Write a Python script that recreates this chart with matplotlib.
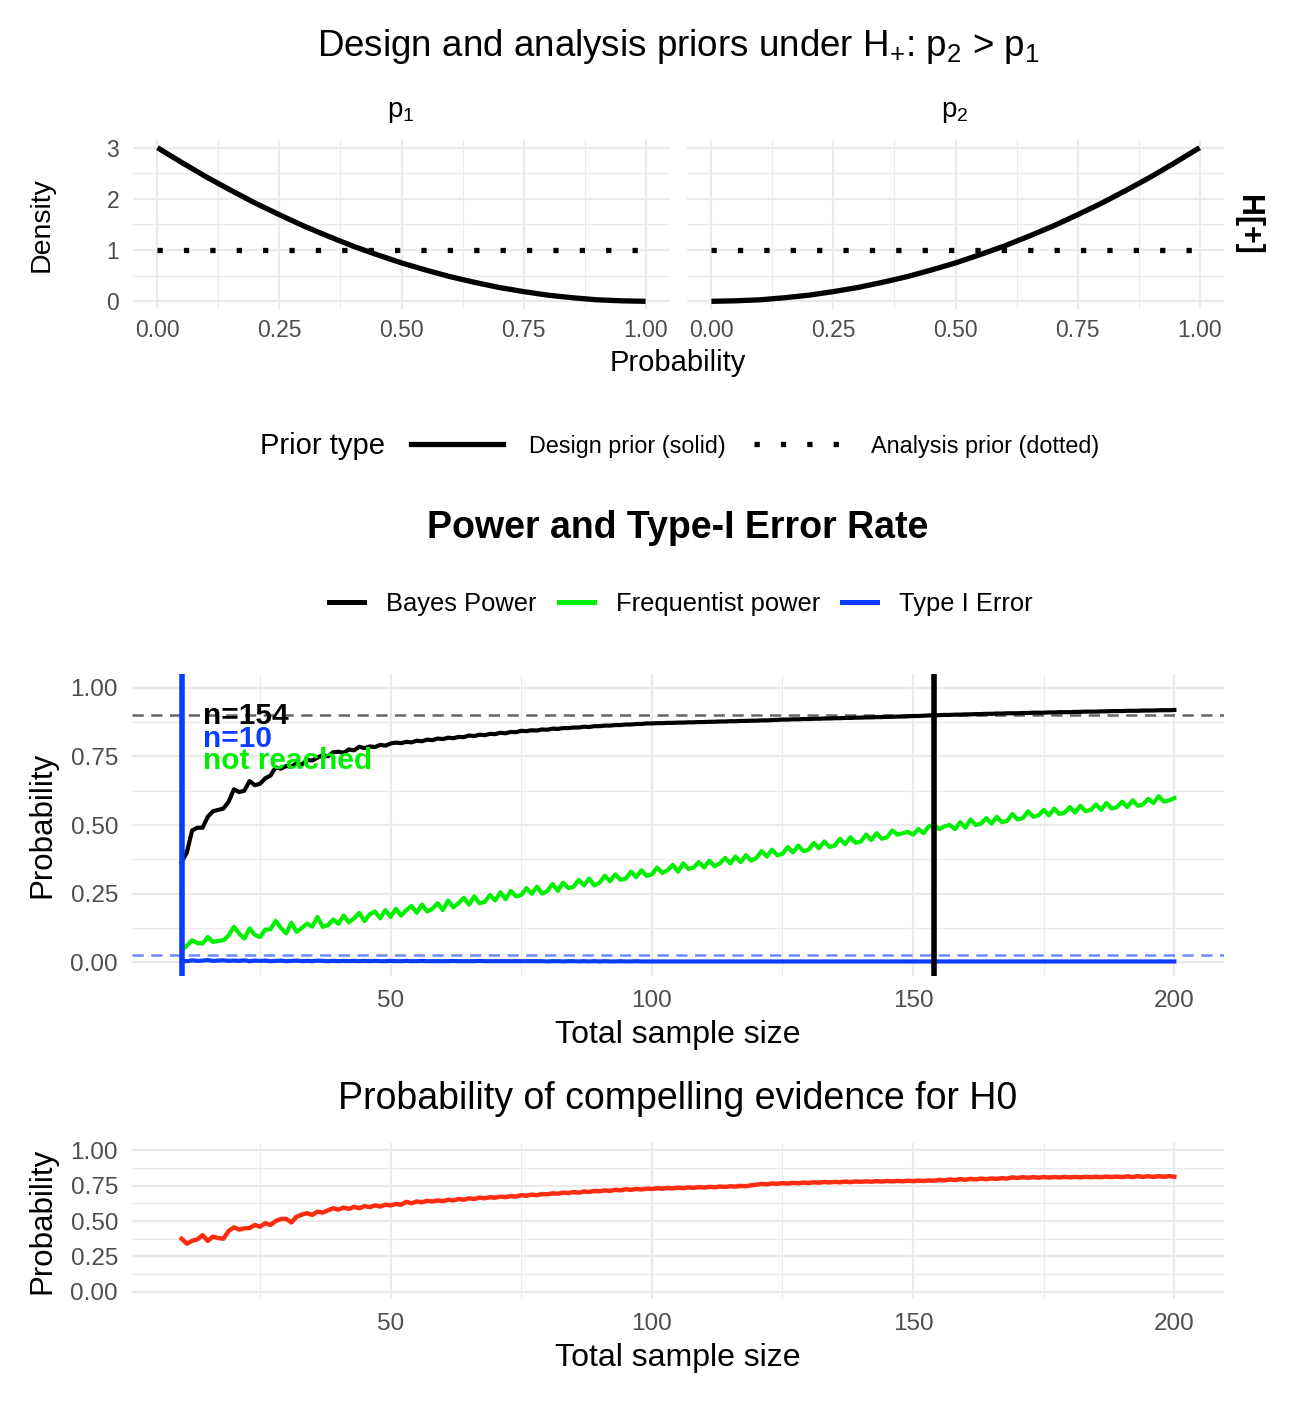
import numpy as np
import matplotlib
matplotlib.use('Agg')
import matplotlib.pyplot as plt
from matplotlib.lines import Line2D

plt.rcParams['font.family'] = ['Liberation Sans', 'DejaVu Sans']
plt.rcParams['mathtext.fontset'] = 'custom'
plt.rcParams['mathtext.rm'] = 'Liberation Sans'
plt.rcParams['mathtext.it'] = 'Liberation Sans:italic'

# ---- prior densities (top panels) ----
prob_grid = [0.00, 0.05, 0.10, 0.15, 0.20, 0.25, 0.30, 0.35, 0.40, 0.45, 0.50,
             0.55, 0.60, 0.65, 0.70, 0.75, 0.80, 0.85, 0.90, 0.95, 1.00]
design_p1 = [3.00, 2.71, 2.43, 2.17, 1.92, 1.69, 1.47, 1.27, 1.08, 0.91, 0.75,
             0.61, 0.48, 0.37, 0.27, 0.19, 0.12, 0.07, 0.03, 0.01, 0.00]
design_p2 = [0.00, 0.01, 0.03, 0.07, 0.12, 0.19, 0.27, 0.37, 0.48, 0.61, 0.75,
             0.91, 1.08, 1.27, 1.47, 1.69, 1.92, 2.17, 2.43, 2.71, 3.00]
analysis_prior = [1.0] * 21

# ---- power curves (n = 10 .. 200) ----
n_total = np.arange(10, 201)

bayes_power = [
    0.365, 0.40, 0.48, 0.49, 0.49, 0.53, 0.55, 0.555, 0.56, 0.585,
    0.63, 0.62, 0.625, 0.66, 0.645, 0.65, 0.67, 0.68, 0.71, 0.705,
    0.715, 0.712, 0.725, 0.72, 0.737, 0.735, 0.745, 0.755, 0.75, 0.765,
    0.767, 0.763, 0.775, 0.772, 0.785, 0.78, 0.786, 0.784, 0.792, 0.789,
    0.797, 0.800, 0.798, 0.803, 0.801, 0.807, 0.805, 0.811, 0.809, 0.815,
    0.813, 0.818, 0.816, 0.821, 0.820, 0.826, 0.824, 0.829, 0.827, 0.832,
    0.831, 0.836, 0.834, 0.839, 0.838, 0.843, 0.842, 0.845, 0.844, 0.848,
    0.847, 0.851, 0.850, 0.853, 0.853, 0.855, 0.855, 0.858, 0.857, 0.860,
    0.860, 0.862, 0.862, 0.864, 0.864, 0.866, 0.866, 0.868, 0.868, 0.870,
    0.870, 0.871, 0.871, 0.872, 0.872, 0.873, 0.873, 0.874, 0.874, 0.875,
    0.875, 0.876, 0.876, 0.877, 0.877, 0.878, 0.878, 0.879, 0.879, 0.880,
    0.880, 0.881, 0.881, 0.882, 0.883, 0.884, 0.884, 0.885, 0.885, 0.886,
    0.886, 0.887, 0.887, 0.888, 0.888, 0.889, 0.889, 0.890, 0.890, 0.891,
    0.891, 0.892, 0.892, 0.893, 0.893, 0.894, 0.894, 0.895, 0.895, 0.896,
    0.897, 0.897, 0.898, 0.899, 0.900, 0.900, 0.901, 0.901, 0.902, 0.902,
    0.903, 0.903, 0.904, 0.904, 0.905, 0.905, 0.906, 0.906, 0.907, 0.907,
    0.907, 0.908, 0.908, 0.909, 0.909, 0.909, 0.910, 0.910, 0.911, 0.911,
    0.911, 0.912, 0.912, 0.913, 0.913, 0.913, 0.914, 0.914, 0.915, 0.915,
    0.915, 0.916, 0.916, 0.916, 0.917, 0.917, 0.917, 0.918, 0.918, 0.918,
    0.919]

freq_power = [
    0.045, 0.06, 0.08, 0.07, 0.068, 0.092, 0.074, 0.078, 0.08, 0.098,
    0.129, 0.105, 0.086, 0.123, 0.10, 0.092, 0.119, 0.12, 0.151, 0.125,
    0.105, 0.144, 0.111, 0.125, 0.141, 0.13, 0.165, 0.129, 0.135, 0.156,
    0.14, 0.17, 0.145, 0.16, 0.18, 0.15, 0.175, 0.185, 0.16, 0.19,
    0.165, 0.195, 0.17, 0.19, 0.205, 0.18, 0.21, 0.185, 0.195, 0.215,
    0.19, 0.225, 0.20, 0.215, 0.235, 0.21, 0.24, 0.215, 0.22, 0.245,
    0.225, 0.255, 0.23, 0.26, 0.24, 0.245, 0.27, 0.25, 0.275, 0.25,
    0.26, 0.285, 0.26, 0.29, 0.27, 0.275, 0.30, 0.28, 0.305, 0.28,
    0.29, 0.315, 0.295, 0.32, 0.30, 0.305, 0.33, 0.31, 0.335, 0.315,
    0.32, 0.345, 0.325, 0.335, 0.355, 0.33, 0.36, 0.34, 0.345, 0.365,
    0.345, 0.37, 0.35, 0.36, 0.38, 0.36, 0.385, 0.365, 0.39, 0.37,
    0.38, 0.405, 0.385, 0.41, 0.39, 0.395, 0.42, 0.40, 0.425, 0.405,
    0.41, 0.435, 0.415, 0.44, 0.42, 0.425, 0.45, 0.43, 0.455, 0.435,
    0.44, 0.465, 0.445, 0.47, 0.45, 0.455, 0.48, 0.465, 0.47, 0.475,
    0.465, 0.485, 0.47, 0.495, 0.50, 0.485, 0.495, 0.50, 0.485, 0.51,
    0.49, 0.52, 0.50, 0.505, 0.525, 0.505, 0.53, 0.51, 0.515, 0.54,
    0.52, 0.525, 0.55, 0.53, 0.535, 0.555, 0.535, 0.56, 0.54, 0.545,
    0.565, 0.545, 0.57, 0.55, 0.555, 0.575, 0.555, 0.58, 0.56, 0.565,
    0.585, 0.565, 0.59, 0.57, 0.575, 0.595, 0.58, 0.605, 0.585, 0.59,
    0.598]

type1_error = [
    0.006, 0.004, 0.007, 0.005, 0.006, 0.008, 0.005, 0.006, 0.007, 0.005,
    0.006, 0.005, 0.007, 0.004, 0.006, 0.005, 0.006, 0.004, 0.005, 0.006,
    0.004, 0.005, 0.006, 0.004, 0.005, 0.004, 0.006, 0.005, 0.004, 0.005,
    0.004, 0.005, 0.004, 0.005, 0.004, 0.005, 0.004, 0.005, 0.004, 0.004,
    0.005, 0.004, 0.004, 0.005, 0.004, 0.004, 0.005, 0.004, 0.004, 0.004,
    0.004, 0.004, 0.005, 0.004, 0.004, 0.004, 0.004, 0.005, 0.004, 0.004,
    0.004, 0.004, 0.004, 0.004, 0.004, 0.004, 0.004, 0.004, 0.004, 0.004,
    0.003, 0.004, 0.004, 0.003, 0.004, 0.004, 0.003, 0.004, 0.003, 0.004,
    0.003, 0.004, 0.003, 0.003, 0.004, 0.003, 0.003, 0.004, 0.003, 0.003,
    0.003, 0.003, 0.003, 0.003, 0.003, 0.003, 0.003, 0.003, 0.003, 0.003,
    0.003, 0.003, 0.003, 0.003, 0.003, 0.003, 0.003, 0.003, 0.003, 0.003,
    0.003, 0.003, 0.003, 0.003, 0.003, 0.003, 0.003, 0.003, 0.003, 0.003,
    0.003, 0.003, 0.003, 0.003, 0.003, 0.003, 0.003, 0.003, 0.003, 0.003,
    0.003, 0.003, 0.003, 0.003, 0.003, 0.003, 0.003, 0.003, 0.003, 0.003,
    0.003, 0.003, 0.003, 0.003, 0.003, 0.003, 0.003, 0.003, 0.003, 0.003,
    0.003, 0.003, 0.003, 0.003, 0.003, 0.003, 0.003, 0.003, 0.003, 0.003,
    0.003, 0.003, 0.003, 0.003, 0.003, 0.003, 0.003, 0.003, 0.003, 0.003,
    0.003, 0.003, 0.003, 0.003, 0.003, 0.003, 0.003, 0.003, 0.003, 0.003,
    0.003, 0.003, 0.003, 0.003, 0.003, 0.003, 0.003, 0.003, 0.003, 0.003,
    0.003]

compelling_h0 = [
    0.375, 0.34, 0.36, 0.37, 0.40, 0.36, 0.39, 0.38, 0.375, 0.43,
    0.455, 0.44, 0.448, 0.45, 0.472, 0.46, 0.484, 0.472, 0.50, 0.514,
    0.515, 0.49, 0.53, 0.545, 0.555, 0.543, 0.566, 0.559, 0.575, 0.59,
    0.58, 0.595, 0.585, 0.60, 0.59, 0.605, 0.598, 0.61, 0.602, 0.615,
    0.61, 0.62, 0.615, 0.635, 0.625, 0.638, 0.632, 0.642, 0.638, 0.645,
    0.64, 0.65, 0.645, 0.655, 0.65, 0.66, 0.655, 0.665, 0.66, 0.668,
    0.664, 0.672, 0.668, 0.676, 0.672, 0.682, 0.678, 0.686, 0.682, 0.69,
    0.688, 0.695, 0.692, 0.70, 0.697, 0.704, 0.70, 0.708, 0.705, 0.712,
    0.71, 0.716, 0.712, 0.72, 0.716, 0.724, 0.72, 0.726, 0.722, 0.728,
    0.726, 0.731, 0.728, 0.733, 0.73, 0.735, 0.732, 0.737, 0.734, 0.739,
    0.736, 0.741, 0.738, 0.743, 0.74, 0.745, 0.742, 0.748, 0.745, 0.752,
    0.756, 0.762, 0.758, 0.765, 0.762, 0.767, 0.764, 0.769, 0.766, 0.771,
    0.768, 0.773, 0.77, 0.775, 0.772, 0.776, 0.773, 0.778, 0.774, 0.779,
    0.776, 0.78, 0.777, 0.781, 0.778, 0.782, 0.779, 0.783, 0.78, 0.784,
    0.781, 0.785, 0.782, 0.786, 0.784, 0.79, 0.786, 0.793, 0.789, 0.795,
    0.791, 0.797, 0.793, 0.799, 0.795, 0.80, 0.797, 0.802, 0.799, 0.808,
    0.803, 0.809, 0.804, 0.81, 0.805, 0.81, 0.806, 0.81, 0.807, 0.811,
    0.808, 0.811, 0.808, 0.812, 0.809, 0.812, 0.809, 0.813, 0.81, 0.813,
    0.81, 0.815, 0.81, 0.816, 0.811, 0.816, 0.811, 0.816, 0.812, 0.816,
    0.812]

target_power = 0.9
alpha_level = 0.025
n_bayes = 154
n_type1 = 10

prob_ticks = [0.0, 0.25, 0.5, 0.75, 1.0]
prob_labels = ['0.00', '0.25', '0.50', '0.75', '1.00']
n_ticks = [50, 100, 150, 200]

BLACK = 'black'
GREEN = '#00F000'
BLUE = '#0A3CFF'
RED = '#FF2D0F'
GRID = '#EBEBEB'
TICKC = '#4D4D4D'
DOTTED = (0, (1, 4))

WPX, HPX = 1308, 1406
fig = plt.figure(figsize=(WPX / 100, HPX / 100), dpi=100)


def px_axes(x0, y0, x1, y1):
    return fig.add_axes([x0 / WPX, 1 - y1 / HPX, (x1 - x0) / WPX, (y1 - y0) / HPX])


def fy(y):
    return 1 - y / HPX


def minimal(ax, tick_size, xpad, ypad):
    for s in ax.spines.values():
        s.set_visible(False)
    ax.grid(True, which='major', color=GRID, lw=1.6)
    ax.grid(True, which='minor', color=GRID, lw=0.9)
    ax.set_axisbelow(True)
    ax.tick_params(which='both', length=0, colors=TICKC, labelsize=tick_size)
    ax.tick_params(axis='x', pad=xpad)
    ax.tick_params(axis='y', pad=ypad)


# ---- top facets ----
ax1 = px_axes(133, 140, 670, 309)
ax2 = px_axes(687, 140, 1224, 309)
for ax, design in ((ax1, design_p1), (ax2, design_p2)):
    ax.plot(prob_grid, design, color=BLACK, lw=3.8, solid_capstyle='butt')
    ax.plot(prob_grid, analysis_prior, color=BLACK, lw=3.8, linestyle=DOTTED)
    ax.set_xlim(-0.05, 1.05)
    ax.set_ylim(-0.15, 3.15)
    ax.set_xticks(prob_ticks)
    ax.set_xticklabels(prob_labels)
    ax.set_xticks([0.125, 0.375, 0.625, 0.875], minor=True)
    ax.set_yticks([0, 1, 2, 3])
    ax.set_yticks([0.5, 1.5, 2.5], minor=True)
    minimal(ax, 16.5, 7.5, 10)
ax2.set_yticklabels([])

fig.text(0.5 * (133 + 1224) / WPX, fy(46),
         r'Design and analysis priors under H$_\mathregular{+}$: p$_\mathregular{2}$ > p$_\mathregular{1}$',
         ha='center', va='center', fontsize=26.5)
fig.text(401 / WPX, fy(112), r'p$_\mathregular{1}$', ha='center', va='center', fontsize=20)
fig.text(955 / WPX, fy(112), r'p$_\mathregular{2}$', ha='center', va='center', fontsize=20)
fig.text(1248 / WPX, fy(225), 'H[+]', rotation=-90, ha='center', va='center',
         fontsize=22, fontweight='bold')
fig.text(42 / WPX, fy(225), 'Density', rotation=90, ha='center', va='center', fontsize=20.5)
fig.text(678 / WPX, fy(363), 'Probability', ha='center', va='center', fontsize=21)

# prior type legend
fig.text(260 / WPX, fy(446), 'Prior type', ha='left', va='center', fontsize=21)
prior_handles = [Line2D([], [], color=BLACK, lw=3.8),
                 Line2D([], [], color=BLACK, lw=3.8, linestyle=DOTTED)]
fig.legend(prior_handles, ['Design prior (solid)', 'Analysis prior (dotted)'],
           loc='center left', bbox_to_anchor=(411 / WPX, fy(446)), ncol=2,
           frameon=False, fontsize=16.8, handlelength=3.95, handletextpad=1.1,
           columnspacing=1.2, borderpad=0, borderaxespad=0)

# ---- power panel ----
fig.text(678 / WPX, fy(528), 'Power and Type-I Error Rate', ha='center', va='center',
         fontsize=27, fontweight='bold')
power_handles = [Line2D([], [], color=BLACK, lw=3.6),
                 Line2D([], [], color=GREEN, lw=3.6),
                 Line2D([], [], color=BLUE, lw=3.6)]
fig.legend(power_handles, ['Bayes Power', 'Frequentist power', 'Type I Error'],
           loc='center', bbox_to_anchor=(681 / WPX, fy(604)), ncol=3,
           frameon=False, fontsize=18.4, handlelength=1.37, handletextpad=0.86,
           columnspacing=0.86, borderpad=0, borderaxespad=0)

ax3 = px_axes(132, 674, 1224, 976)
ax3.axhline(target_power, color='#666666', lw=1.8, linestyle=(0, (4.5, 3)))
ax3.axhline(alpha_level, color=BLUE, alpha=0.6, lw=1.8, linestyle=(0, (4.5, 3)))
ax3.plot(n_total, bayes_power, color=BLACK, lw=3.0)
ax3.plot(n_total, freq_power, color=GREEN, lw=3.0)
ax3.plot(n_total, type1_error, color=BLUE, lw=3.0)
ax3.axvline(n_bayes, color=BLACK, lw=4)
ax3.axvline(n_type1, color=BLUE, lw=4)
ax3.text(14, 0.898, 'n=%d' % n_bayes, color=BLACK, fontsize=21.5, fontweight='bold',
         ha='left', va='center')
ax3.text(14, 0.814, 'n=%d' % n_type1, color=BLUE, fontsize=21.5, fontweight='bold',
         ha='left', va='center')
ax3.text(14, 0.734, 'not reached', color=GREEN, fontsize=21.5, fontweight='bold',
         ha='left', va='center')
ax3.set_xlim(0.5, 209.5)
ax3.set_ylim(-0.05, 1.05)
ax3.set_xticks(n_ticks)
ax3.set_xticks([25, 75, 125, 175], minor=True)
ax3.set_yticks(prob_ticks)
ax3.set_yticklabels(prob_labels)
ax3.set_yticks([0.125, 0.375, 0.625, 0.875], minor=True)
minimal(ax3, 17.5, 10, 10)
fig.text(42 / WPX, fy(825), 'Probability', rotation=90, ha='center', va='center', fontsize=22.5)
fig.text(678 / WPX, fy(1035), 'Total sample size', ha='center', va='center', fontsize=23)

# ---- compelling evidence panel ----
fig.text(678 / WPX, fy(1099), 'Probability of compelling evidence for H0',
         ha='center', va='center', fontsize=27)
ax4 = px_axes(132, 1143, 1224, 1299)
ax4.plot(n_total, compelling_h0, color=RED, lw=3.2)
ax4.set_xlim(0.5, 209.5)
ax4.set_ylim(-0.05, 1.05)
ax4.set_xticks(n_ticks)
ax4.set_xticks([25, 75, 125, 175], minor=True)
ax4.set_yticks(prob_ticks)
ax4.set_yticklabels(prob_labels)
ax4.set_yticks([0.125, 0.375, 0.625, 0.875], minor=True)
minimal(ax4, 17.5, 10, 10)
fig.text(42 / WPX, fy(1221), 'Probability', rotation=90, ha='center', va='center', fontsize=22.5)
fig.text(678 / WPX, fy(1358), 'Total sample size', ha='center', va='center', fontsize=23)

fig.savefig('out.png', dpi=100, facecolor='white')
